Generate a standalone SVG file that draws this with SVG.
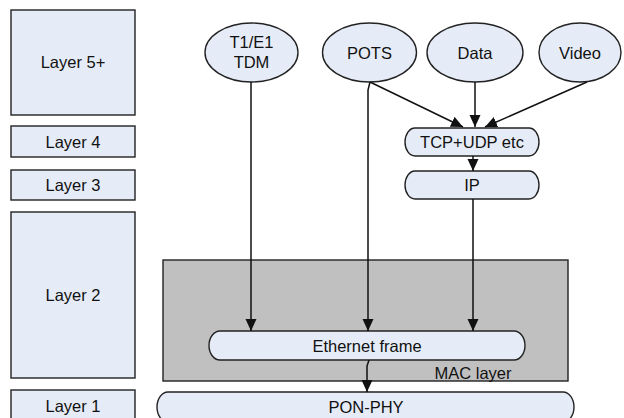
<svg xmlns="http://www.w3.org/2000/svg" width="624" height="418" viewBox="0 0 624 418">
<defs>
<style>
.box{fill:#e6ecf7;stroke:#222;stroke-width:1.4}
.gray{fill:#c0c0c0;stroke:#222;stroke-width:1.4}
.t{font-family:"Liberation Sans",Arial,sans-serif;font-size:16.5px;fill:#111;text-anchor:middle}
.c{fill:none;stroke:#111;stroke-width:1.5}
</style>
<marker id="ah" markerUnits="userSpaceOnUse" markerWidth="12" markerHeight="13" refX="12" refY="5.5" orient="auto">
<path d="M0,0 L12,5.5 L0,11 z" fill="#111"/>
</marker>
</defs>
<rect width="624" height="418" fill="#fff"/>
<g id="layers">
<g id="layer5"><rect class="box" x="11" y="10" width="124" height="105"/><text class="t" x="73" y="68">Layer 5+</text></g>
<g id="layer4"><rect class="box" x="11" y="126" width="124" height="31"/><text class="t" x="73" y="147.5">Layer 4</text></g>
<g id="layer3"><rect class="box" x="11" y="170" width="124" height="30"/><text class="t" x="73" y="191">Layer 3</text></g>
<g id="layer2"><rect class="box" x="11" y="212" width="124" height="166"/><text class="t" x="73" y="300.5">Layer 2</text></g>
<g id="layer1"><rect class="box" x="11" y="390" width="124" height="32"/><text class="t" x="73" y="411.5">Layer 1</text></g>
</g>
<g id="mac"><rect class="gray" x="163" y="260" width="405" height="121"/><text class="t" x="473" y="378.5">MAC layer</text></g>
<g id="t1e1"><ellipse class="box" cx="251.5" cy="52.5" rx="46.5" ry="29.5"/><text class="t" x="251.5" y="47.5">T1/E1</text><text class="t" x="251.5" y="67.5">TDM</text></g>
<g id="pots"><ellipse class="box" cx="369.5" cy="52.5" rx="47" ry="29.5"/><text class="t" x="369.5" y="58.5">POTS</text></g>
<g id="data"><ellipse class="box" cx="475" cy="52.5" rx="48" ry="29.5"/><text class="t" x="475" y="58.5">Data</text></g>
<g id="video"><ellipse class="box" cx="580" cy="52.5" rx="41" ry="29.5"/><text class="t" x="580" y="58.5">Video</text></g>
<g id="tcp"><rect class="box" x="405" y="128" width="134" height="28" rx="10" ry="14"/><text class="t" x="472" y="148">TCP+UDP etc</text></g>
<g id="ip"><rect class="box" x="405" y="171" width="134" height="28" rx="10" ry="14"/><text class="t" x="472" y="191">IP</text></g>
<g id="eth"><rect class="box" x="209" y="331" width="316" height="29" rx="11" ry="14.5"/><text class="t" x="367" y="351.5">Ethernet frame</text></g>
<g id="pon"><rect class="box" x="157" y="392" width="417" height="30" rx="11" ry="15"/><text class="t" x="366" y="412.5">PON-PHY</text></g>
<g id="connectors">
<path class="c" d="M251,82 V331" marker-end="url(#ah)"/>
<path class="c" d="M370,82 L368,90 V331" marker-end="url(#ah)"/>
<path class="c" d="M370,82 L463,127" marker-end="url(#ah)"/>
<path class="c" d="M475,82 V127" marker-end="url(#ah)"/>
<path class="c" d="M587,82 L485,127" marker-end="url(#ah)"/>
<path class="c" d="M473,156 V171" marker-end="url(#ah)"/>
<path class="c" d="M473,199 V331" marker-end="url(#ah)"/>
<path class="c" d="M369,360 L367,366 V392" marker-end="url(#ah)"/>
</g>
</svg>
